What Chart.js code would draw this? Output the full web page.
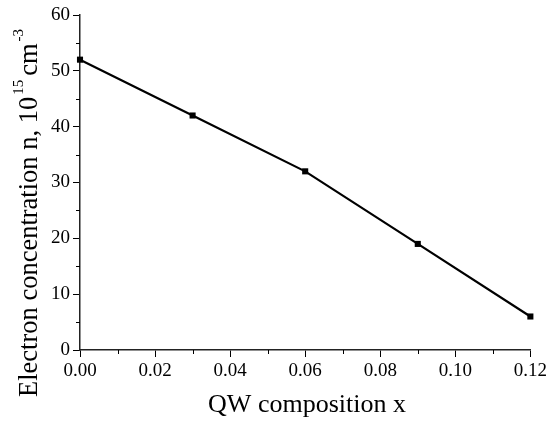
<!DOCTYPE html>
<html lang="en">
<head>
<meta charset="UTF-8">
<title>Electron concentration vs QW composition</title>
<script src="https://cdn.jsdelivr.net/npm/chart.js"></script>
<style>
  html, body { margin: 0; padding: 0; background: #fff; }
  #chart { display: block; }
</style>
</head>
<body>
<canvas id="chart" width="550" height="421"></canvas>
<script>
// data
const composition = [0.00, 0.03, 0.06, 0.09, 0.12];
const concentration = [52, 42, 32, 19, 6];
const xTicks = [0, 0.02, 0.04, 0.06, 0.08, 0.10, 0.12];
const xMinor = [0.01, 0.03, 0.05, 0.07, 0.09, 0.11];
const yTicks = [0, 10, 20, 30, 40, 50, 60];
const yMinor = [5, 15, 25, 35, 45, 55];

const serif = '"Liberation Serif", "DejaVu Serif", serif';

// minor ticks + axis titles (with superscripts)
const extras = {
    id: 'extras',
    afterDraw(chart) {
        const c = chart.ctx;
        const xs = chart.scales.x, ys = chart.scales.y;
        const area = chart.chartArea;
        c.save();
        c.strokeStyle = '#000';
        c.lineWidth = 1;
        c.beginPath();
        xMinor.forEach(v => {
            const px = Math.round(xs.getPixelForValue(v)) + 0.5;
            c.moveTo(px, area.bottom);
            c.lineTo(px, area.bottom + 4);
        });
        yMinor.forEach(v => {
            const py = Math.round(ys.getPixelForValue(v)) + 0.5;
            c.moveTo(area.left, py);
            c.lineTo(area.left - 4, py);
        });
        c.stroke();

        c.fillStyle = '#000';
        // x title
        c.font = '26px ' + serif;
        c.textAlign = 'center';
        c.textBaseline = 'alphabetic';
        c.fillText('QW composition x', 307, 412);

        // y title, rotated
        c.translate(37, 397);
        c.rotate(-Math.PI / 2);
        c.textAlign = 'left';
        let x = 0;
        const parts = [
            ['Electron concentration n, 10', 26.5, 0, 2],
            ['15', 15, -14, 4],
            ['cm', 26.5, 0, 2],
            ['-3', 15, -14, 0]
        ];
        parts.forEach(p => {
            c.font = p[1] + 'px ' + serif;
            c.fillText(p[0], x, p[2]);
            x += c.measureText(p[0]).width + p[3];
        });
        c.restore();
    }
};

new Chart(document.getElementById('chart'), {
    type: 'line',
    data: {
        datasets: [{
            data: composition.map((v, i) => ({ x: v, y: concentration[i] })),
            borderColor: '#000',
            backgroundColor: '#000',
            borderWidth: 2.2,
            pointStyle: 'rect',
            pointRadius: 4.3,
            pointBorderWidth: 0,
            tension: 0,
            clip: false
        }]
    },
    options: {
        responsive: false,
        animation: false,
        layout: { padding: { top: 15, right: 19, left: 0, bottom: 0 } },
        plugins: { legend: { display: false }, tooltip: { enabled: false } },
        scales: {
            x: {
                type: 'linear',
                min: 0, max: 0.12,
                afterFit(s) { s.height = 71; },
                afterBuildTicks(s) { s.ticks = xTicks.map(v => ({ value: v })); },
                ticks: {
                    color: '#000',
                    font: { family: serif, size: 19 },
                    padding: 3,
                    maxRotation: 0,
                    callback: v => v.toFixed(2)
                },
                grid: { drawOnChartArea: false, drawTicks: true, tickLength: 7, color: '#000', tickWidth: 1 },
                border: { display: true, color: '#222', width: 1.5 }
            },
            y: {
                min: 0, max: 60,
                afterFit(s) { s.width = 80; },
                afterBuildTicks(s) { s.ticks = yTicks.map(v => ({ value: v })); },
                ticks: {
                    color: '#000',
                    font: { family: serif, size: 19 },
                    padding: 3
                },
                grid: { drawOnChartArea: false, drawTicks: true, tickLength: 7, color: '#000', tickWidth: 1 },
                border: { display: true, color: '#222', width: 1.5 }
            }
        }
    },
    plugins: [extras]
});
</script>
</body>
</html>
